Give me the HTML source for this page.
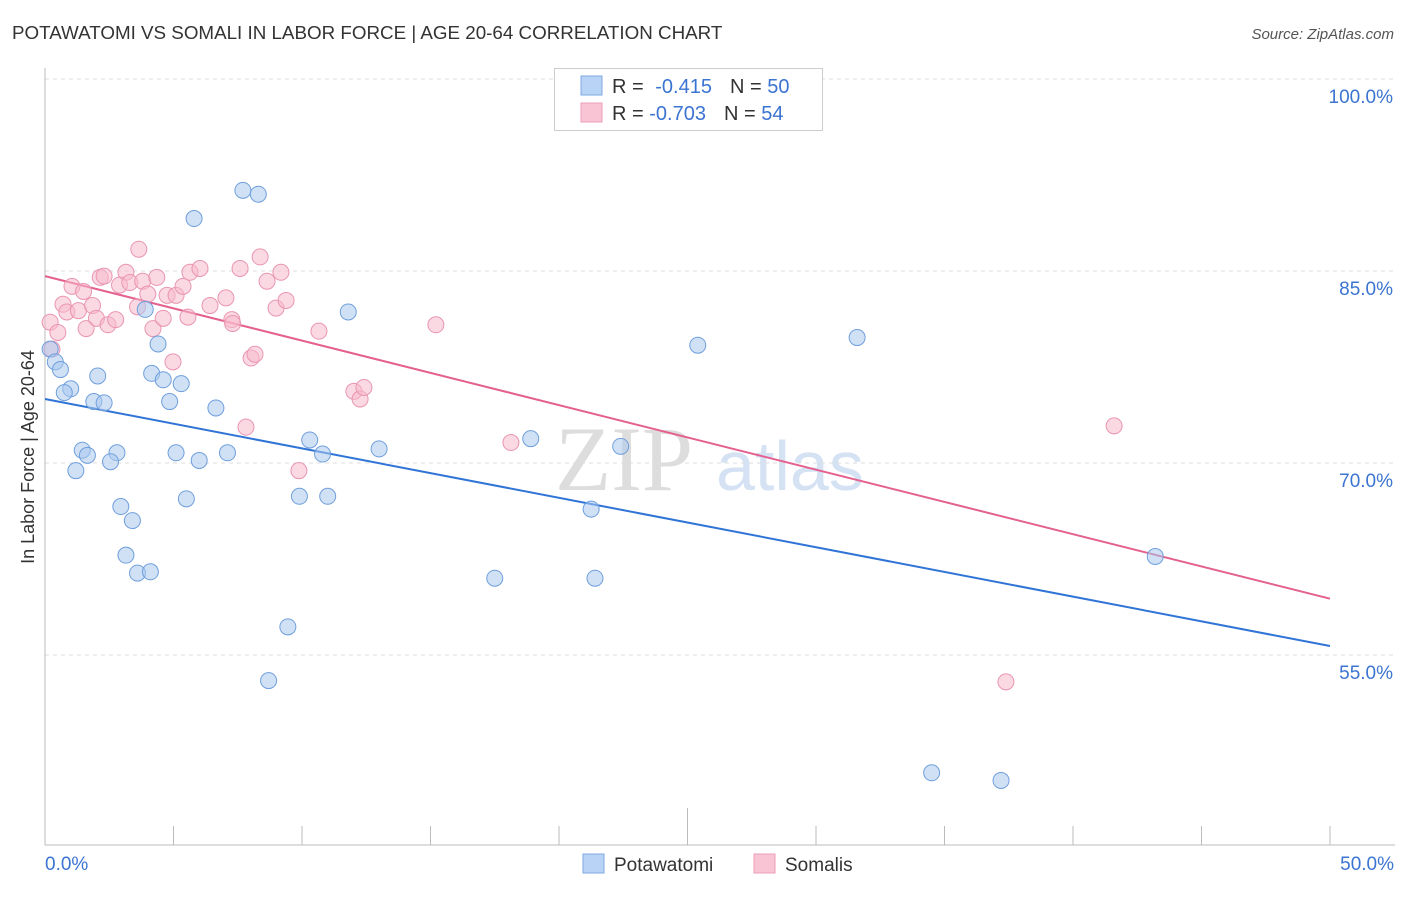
<!DOCTYPE html>
<html><head><meta charset="utf-8">
<style>
body{margin:0;background:#fff;font-family:"Liberation Sans",sans-serif;}
svg text{font-family:"Liberation Sans",sans-serif;}
</style></head>
<body>
<svg id="chart" width="1406" height="892" xmlns="http://www.w3.org/2000/svg">
<text x="12" y="39" font-size="18.8" fill="#333">POTAWATOMI VS SOMALI IN LABOR FORCE | AGE 20-64 CORRELATION CHART</text>
<text x="1394" y="39" font-size="15" fill="#555" text-anchor="end" font-style="italic">Source: ZipAtlas.com</text>
<g>
<text x="555" y="490" font-size="92" fill="#ddd" font-family="Liberation Serif" style="font-family:'Liberation Serif',serif">ZIP</text>
<text x="716" y="490" font-size="70" fill="#d4e2f4">atlas</text>
</g>
<g id="grid"></g>
<g id="axes"></g>
<g id="lines"></g>
<g id="pts"></g>
<text x="34" y="457" font-size="18" fill="#333" text-anchor="middle" transform="rotate(-90 34 457)">In Labor Force | Age 20-64</text>
<g>
<rect x="554.5" y="68.5" width="268" height="62" fill="#fff" stroke="#ccc"/>
<rect x="581" y="76" width="21" height="19" fill="#b8d3f5" stroke="#7ea9e0"/>
<rect x="581" y="103" width="21" height="19" fill="#f9c5d5" stroke="#ec9db8"/>
<text x="612" y="93" font-size="20" fill="#333">R = <tspan fill="#3b74d1" dx="6">-0.415</tspan><tspan dx="18" fill="#333">N = </tspan><tspan fill="#3b74d1">50</tspan></text>
<text x="612" y="120" font-size="20" fill="#333">R = <tspan fill="#3b74d1">-0.703</tspan><tspan dx="18" fill="#333">N = </tspan><tspan fill="#3b74d1">54</tspan></text>
</g>
<g>
<rect x="583" y="854" width="21" height="19" fill="#b8d3f5" stroke="#7ea9e0"/>
<text x="614" y="871" font-size="19" fill="#333">Potawatomi</text>
<rect x="754" y="854" width="21" height="19" fill="#f9c5d5" stroke="#ec9db8"/>
<text x="785" y="871" font-size="19" fill="#333">Somalis</text>
</g>
</svg>
<script>
const yTicks=[100,85,70,55];
const xTickLabels=["0.0%","50.0%"];
const blueX=[0.2,0.4,0.6,1.0,0.75,2.05,1.9,2.3,1.45,1.65,1.2,2.8,2.55,2.95,3.4,3.15,3.6,4.1,3.9,4.4,4.15,4.6,5.3,4.85,5.1,6.0,5.5,5.8,6.65,7.1,7.7,8.3,9.9,10.3,10.8,11.0,11.8,13.0,9.45,8.7,17.5,18.9,21.25,21.4,22.4,25.4,31.6,34.5,37.2,43.2];
const blueY=[78.9,77.9,77.3,75.8,75.5,76.8,74.8,74.7,71.0,70.6,69.4,70.8,70.1,66.6,65.5,62.8,61.4,61.5,82.0,79.3,77.0,76.5,76.2,74.8,70.8,70.2,67.2,89.1,74.3,70.8,91.3,91.0,67.4,71.8,70.7,67.4,81.8,71.1,57.2,53.0,61.0,71.9,66.4,61.0,71.3,79.2,79.8,45.8,45.2,62.7];
const pinkX=[0.2,0.5,0.7,0.85,1.05,1.3,1.5,1.6,1.85,2.0,2.15,2.3,2.45,2.75,3.15,2.9,3.3,3.6,3.65,3.8,4.0,4.2,4.35,4.6,4.75,4.98,5.1,5.37,5.56,5.64,6.03,6.42,7.04,7.27,7.3,7.59,7.82,8.02,8.17,8.37,8.64,8.99,9.18,9.38,9.88,10.66,12.02,12.26,12.41,15.21,18.13,37.39,41.6,0.27];
const pinkY=[81.0,80.2,82.4,81.8,83.8,81.9,83.4,80.5,82.3,81.3,84.5,84.6,80.8,81.2,84.9,83.9,84.1,82.2,86.7,84.2,83.2,80.5,84.5,81.3,83.1,77.9,83.1,83.8,81.4,84.9,85.2,82.3,82.9,81.2,80.9,85.2,72.8,78.2,78.5,86.1,84.2,82.1,84.9,82.7,69.4,80.3,75.6,75.0,75.9,80.8,71.6,52.9,72.9,78.9];
const blueLine=[75.0,55.7];
const pinkLine=[84.6,59.4];
const X=v=>45+v/50*1285, Y=v=>79+(100-v)*12.8;
const NS="http://www.w3.org/2000/svg";
function mk(t,a,p){const e=document.createElementNS(NS,t);for(const k in a)e.setAttribute(k,a[k]);document.getElementById(p).appendChild(e);return e;}
yTicks.forEach(v=>{
 const l=mk('line',{x1:45,x2:1395,y1:Y(v),y2:Y(v),stroke:'#ddd','stroke-dasharray':'4,4'},'grid');
 
 
 const t=mk('text',{x:1393,y:Y(v)+24,'font-size':19,fill:'#3b74d1','text-anchor':'end'},'grid');
 t.textContent=v.toFixed(1)+'%';
 
 
});
let a=mk('line',{x1:45,x2:45,y1:68,y2:845,stroke:'#bbb'},'axes');


a=mk('line',{x1:45,x2:1395,y1:845,y2:845,stroke:'#bbb'},'axes');


for(let i=0;i<=10;i++){const x=X(i*5);const t=mk('line',{x1:x,x2:x,y1:i==5?808:826,y2:845,stroke:'#bbb'},'axes');
 
 }
xTickLabels.forEach((s,i)=>{const t=mk('text',{x:i?1394:45,y:870,'font-size':19,fill:'#3b74d1','text-anchor':i?'end':'start'},'axes');t.textContent=s;
 
 });
function pts(xs,ys,fill,st,name){xs.forEach((x,i)=>{const c=mk('circle',{cx:X(x),cy:Y(ys[i]),r:8,fill:fill,'fill-opacity':0.55,stroke:st,'stroke-width':1},'pts');
 
 });}
pts(pinkX,pinkY,'#f7b9cc','#e995b2','somalis-point');
pts(blueX,blueY,'#a9c8ef','#6f9fdc','potawatomi-point');
let tl=mk('line',{x1:X(0),y1:Y(blueLine[0]),x2:X(50),y2:Y(blueLine[1]),stroke:'#2f74d6','stroke-width':2},'lines');


tl=mk('line',{x1:X(0),y1:Y(pinkLine[0]),x2:X(50),y2:Y(pinkLine[1]),stroke:'#e4608e','stroke-width':2},'lines');


</script>
</body></html>
